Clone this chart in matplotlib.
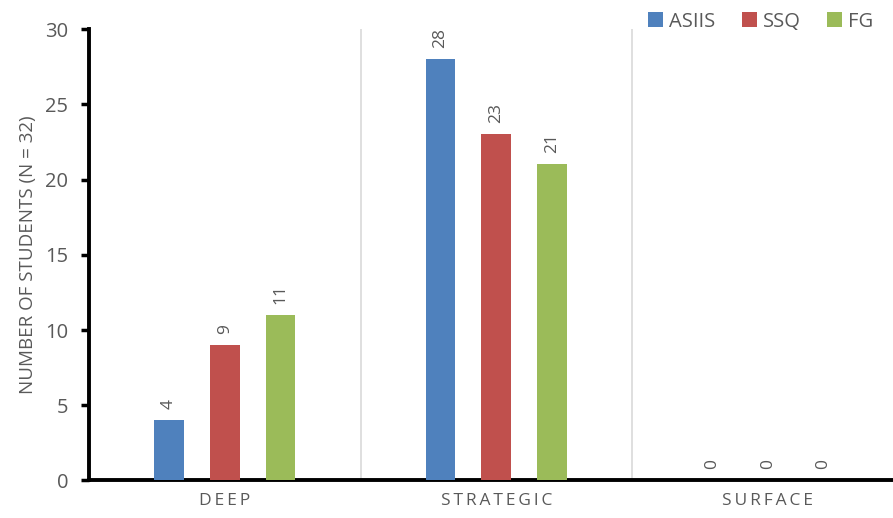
import matplotlib
matplotlib.use("Agg")
import matplotlib.pyplot as plt
import numpy as np

# ---- data ------------------------------------------------------------------
CATEGORIES = ["DEEP", "STRATEGIC", "SURFACE"]
SERIES = ["ASIIS", "SSQ", "FG"]
ASIIS = [4, 28, 0]
SSQ = [9, 23, 0]
FG = [11, 21, 0]
Y_TICKS = [0, 5, 10, 15, 20, 25, 30]

COLORS = ["#4f81bd", "#c0504d", "#9bbb59"]
GREY = "#595959"

plt.rcParams["font.family"] = ["Open Sans", "DejaVu Sans"]


def spaced(s):
    # imitate the letter spacing of the category labels
    return "\u2009".join(s)


fig = plt.figure(figsize=(8.93, 5.18), dpi=100)
ax = fig.add_axes([0.0997, 0.0724, 0.912, 0.8716])

x = np.arange(len(CATEGORIES))
offsets = [-0.205, 0.0, 0.205]
width = 0.109
for vals, off, col, name in zip([ASIIS, SSQ, FG], offsets, COLORS, SERIES):
    bars = ax.bar(x + off, vals, width, color=col, label=name, zorder=3)
    for b, v in zip(bars, vals):
        ax.annotate(f"{v}", (b.get_x() + b.get_width() / 2, v),
                    xytext=(0, 8), textcoords="offset points",
                    rotation=90, ha="center", va="bottom",
                    fontsize=12.5, color=GREY)

# separators between categories
for xs in (0.5, 1.5):
    ax.axvline(xs, color="#d9d9d9", lw=1.2, zorder=1)

ax.set_xlim(-0.5, 2.5)
ax.set_ylim(0, 30)
ax.set_yticks(Y_TICKS)
ax.set_xticks(x)
ax.set_xticklabels([spaced(c) for c in CATEGORIES], color=GREY, fontsize=12.5)
ax.tick_params(axis="x", length=0, pad=9)
ax.tick_params(axis="y", length=6, width=2.5, direction="out",
               labelsize=14.5, labelcolor=GREY, pad=9)
for sp in ("top", "right"):
    ax.spines[sp].set_visible(False)
for sp in ("left", "bottom"):
    ax.spines[sp].set_linewidth(2.8)
    ax.spines[sp].set_color("black")

ax.set_ylabel("NUMBER OF STUDENTS (N = 32)", color=GREY, fontsize=13.5, labelpad=6)

ax.legend(loc="upper right", bbox_to_anchor=(0.973, 1.056), ncol=3, frameon=False,
          fontsize=14.5, labelcolor=GREY, handlelength=0.75, handleheight=0.75,
          handletextpad=0.3, columnspacing=1.3, borderaxespad=0)

fig.savefig("out.png", dpi=100)
